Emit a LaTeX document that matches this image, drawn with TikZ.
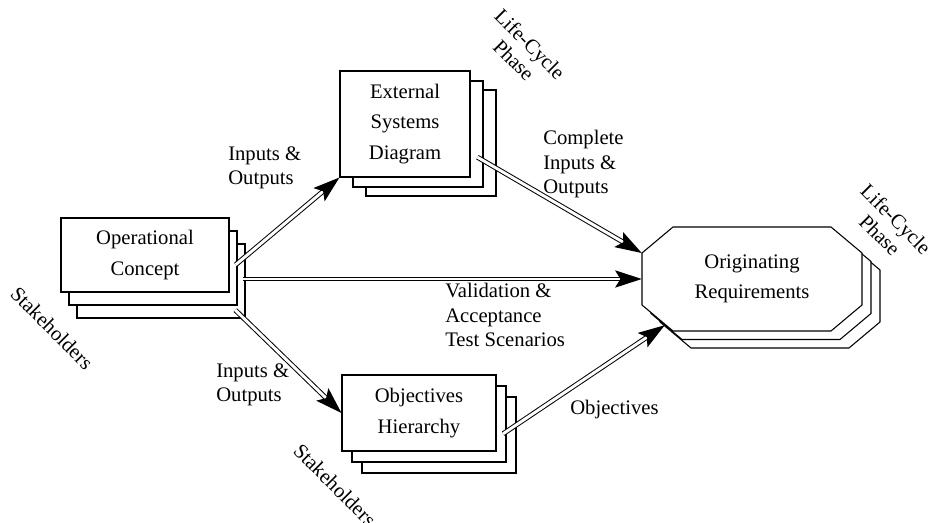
\documentclass[tikz,border=0pt]{standalone}
\usepackage{fontspec}
\setmainfont{Liberation Serif}
\usetikzlibrary{shadows,arrows.meta}

\begin{document}
\begin{tikzpicture}[x=0.75pt,y=-0.75pt,
		doc/.style={rectangle,draw,fill=white,line width=0.8pt,align=center,font=\fontsize{15.5}{23}\selectfont},
		octo/.style={draw,fill=white,line width=0.8pt},
		req/.style={rectangle,align=center,inner sep=0pt,font=\fontsize{15.5}{23}\selectfont},
		lbl/.style={align=left,inner sep=0pt,anchor=north west,font=\fontsize{15.5}{18.5}\selectfont},
		tilt/.style={align=center,inner sep=0pt,rotate=-45,font=\fontsize{15.5}{17}\selectfont},
		flow/.style={double,double distance=2.2pt,line width=0.75pt,-{Stealth[length=20pt,width=13pt,inset=4pt]}}]
		\useasboundingbox (0,0) rectangle (932,523);

		\node[doc,minimum width=126pt,minimum height=55.5pt,
			copy shadow={shadow xshift=12pt,shadow yshift=-19.5pt},
			copy shadow={shadow xshift=6pt,shadow yshift=-9.75pt}]			(oc)	at (145,255)	{Operational\\Concept};
		\node[doc,minimum width=97.5pt,minimum height=79.5pt,
			copy shadow={shadow xshift=19.5pt,shadow yshift=-14.25pt},
			copy shadow={shadow xshift=9.75pt,shadow yshift=-7.5pt}]		(esd)	at (405,124)	{External\\Systems\\Diagram};
		\node[doc,minimum width=115.5pt,minimum height=57pt,
			copy shadow={shadow xshift=15pt,shadow yshift=-16.5pt},
			copy shadow={shadow xshift=7.5pt,shadow yshift=-8.25pt}]		(oh)	at (419,413)	{Objectives\\Hierarchy};

		% octagon, two copies behind
		\foreach \d in {2,1,0}
			\draw[octo,shift={(9*\d,8.5*\d)}] (673,227) -- (831,227) -- (862,253) -- (862,305) -- (831,331) -- (673,331) -- (642,305) -- (642,253) -- cycle;
		\node[req,minimum width=165pt,minimum height=78pt]					(or)	at (752,279)	{Originating\\Requirements};

		\node[lbl]	(io1)	at (228,146)	{Inputs \&\\Outputs};
		\node[lbl]	(cio)	at (543,130)	{Complete\\Inputs \&\\Outputs};
		\node[lbl]	(vat)	at (445,283)	{Validation \&\\Acceptance\\Test Scenarios};
		\node[lbl]	(io2)	at (216,363)	{Inputs \&\\Outputs};
		\node[lbl]	(obj)	at (570,400)	{Objectives};

		\node[tilt]	(sh1)	at (52,328)		{Stakeholders};
		\node[tilt]	(sh2)	at (335,485)	{Stakeholders};
		\node[tilt]	(lc1)	at (522,52)		{Life-Cycle\\Phase};
		\node[tilt]	(lc2)	at (888,227)	{Life-Cycle\\Phase};

		\draw[flow,shorten <=6pt]	(oc.-10) -- (esd.south west);
		\draw[flow,shorten <=10pt]	(oc.east |- or.west) -- (or.west);
		\draw[flow,shorten <=6pt]	([yshift=-9pt]oc.south east) -- (oh.west);
		\draw[flow,shorten <=6pt]	(esd.-24) -- ([yshift=19.5pt]or.west);
		\draw[flow,shorten <=6pt]	(oh.-18) -- ([xshift=17.25pt,yshift=4.5pt]or.south west);
	\end{tikzpicture}
\end{document}
